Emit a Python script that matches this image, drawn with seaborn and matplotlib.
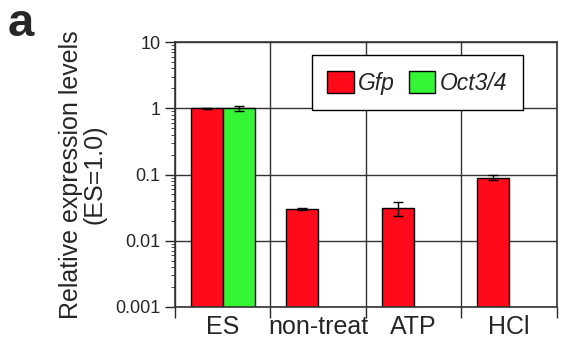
import numpy as np
import pandas as pd
import matplotlib
matplotlib.use("Agg")
import matplotlib.pyplot as plt
import matplotlib.patches as mpatches
from matplotlib.ticker import FixedLocator, LogLocator, NullFormatter
import seaborn as sns

# data
groups = ["ES", "non-treat", "ATP", "HCl"]
gfp_mean = [1.0, 0.030, 0.031, 0.090]
gfp_err = [0.02, 0.001, 0.007, 0.008]
oct_mean = [1.0, np.nan, np.nan, np.nan]
oct_err = [0.08, np.nan, np.nan, np.nan]
genes = ["Gfp", "Oct3/4"]
colors = ["#ff0a1a", "#33f533"]

df = pd.DataFrame({
    "group": groups * 2,
    "gene": [genes[0]] * 4 + [genes[1]] * 4,
    "value": gfp_mean + oct_mean,
})
err_lookup = {genes[0]: gfp_err, genes[1]: oct_err}

sns.set_style("white")
plt.rcParams["font.family"] = ["Liberation Sans", "DejaVu Sans"]

fig = plt.figure(figsize=(5.67, 3.51), dpi=100)
ax = fig.add_axes([0.3086, 0.1254, 0.6734, 0.7546])
ax.set_yscale("log")

sns.barplot(data=df.dropna(), x="group", y="value", hue="gene", order=groups,
            hue_order=genes, palette=colors, width=0.67, saturation=1,
            edgecolor="black", linewidth=1, legend=False, ax=ax)

# error bars on top of each drawn bar
for cont, gene in zip(ax.containers, genes):
    vals = df[df.gene == gene].dropna()
    errs = [err_lookup[gene][groups.index(g)] for g in vals.group]
    for bar, e in zip(cont, errs):
        xc = bar.get_x() + bar.get_width() / 2
        ax.errorbar(xc, bar.get_y() + bar.get_height(), yerr=e, fmt="none",
                    ecolor="black", elinewidth=1, capsize=3.8, capthick=1, zorder=5)

ax.set_ylim(0.001, 10)
ax.set_xlim(-0.5, len(groups) - 0.5)
ax.set_yticks([0.001, 0.01, 0.1, 1, 10])
ax.set_yticklabels(["0.001", "0.01", "0.1", "1", "10"], fontsize=13)
ax.yaxis.set_minor_locator(LogLocator(base=10, subs=np.arange(2, 10)))
ax.yaxis.set_minor_formatter(NullFormatter())
ax.tick_params(axis="y", which="major", direction="out", length=7, width=1, left=True)
ax.tick_params(axis="y", which="minor", direction="out", length=3, width=0.6, left=True)

# group boundaries as ticks/grid, labels in group centers
ax.xaxis.set_minor_locator(FixedLocator(np.arange(len(groups) + 1) - 0.5))
ax.tick_params(axis="x", which="major", length=0, pad=6, labelsize=18)
ax.tick_params(axis="x", which="minor", direction="out", length=8, width=1, bottom=True)
ax.set_xlabel("")
ax.set_ylabel("Relative expression levels\n(ES=1.0)", fontsize=18, labelpad=6,
              linespacing=1.0)

ax.grid(True, axis="y", which="major", color="#333333", linewidth=1)
ax.grid(True, axis="x", which="minor", color="#333333", linewidth=1)
ax.set_axisbelow(True)
for sp in ax.spines.values():
    sp.set_color("#333333")
    sp.set_linewidth(1.2)

handles = [mpatches.Patch(facecolor=c, edgecolor="black", linewidth=1) for c in colors]
leg = ax.legend(handles, genes, ncol=2, loc="upper right",
                bbox_to_anchor=(0.911, 0.951), borderaxespad=0, frameon=True,
                fancybox=False, prop={"style": "italic", "size": 16.5},
                handlelength=1.15, handleheight=1.12, handletextpad=0.2,
                columnspacing=0.6, borderpad=0.68, framealpha=1)
leg.get_frame().set_edgecolor("black")
leg.get_frame().set_linewidth(1)

fig.text(0.014, 0.995, "a", fontsize=34, fontweight="bold", va="top", ha="left")

fig.savefig("out.png", dpi=100)
